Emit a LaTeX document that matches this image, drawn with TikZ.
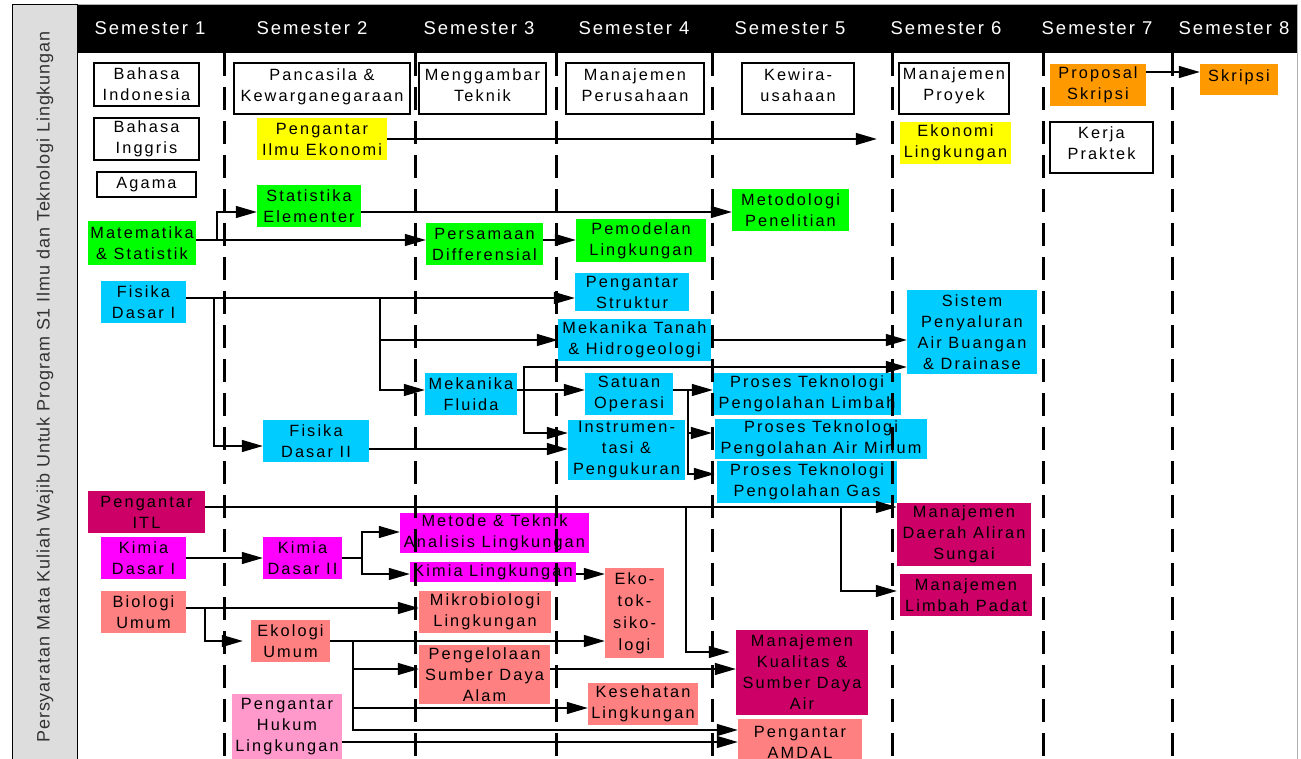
\documentclass[tikz,border=0pt]{standalone}
\usepackage{fontspec}
\setmainfont{Liberation Sans}
\usetikzlibrary{arrows.meta}
\newfontfamily\nodefont[LetterSpace=13]{Liberation Sans}
\newfontfamily\headfont[LetterSpace=11]{Liberation Sans}
\newfontfamily\sidefont[LetterSpace=5]{Liberation Sans}
\definecolor{cgreen}{HTML}{00FF00}
\definecolor{cyellow}{HTML}{FFFF00}
\definecolor{ccyan}{HTML}{00CCFF}
\definecolor{cmag}{HTML}{FF00FF}
\definecolor{ccrim}{HTML}{CC0066}
\definecolor{csalmon}{HTML}{FF8080}
\definecolor{cpink}{HTML}{FF99CC}
\definecolor{corange}{HTML}{FF9900}
\definecolor{cpanel}{HTML}{DDDDDD}
\definecolor{cside}{HTML}{333333}
\newcommand\bx[8][]{%
  \pgfmathsetmacro\bxcx{(#4+#6)/2}\pgfmathsetmacro\bxcy{(#5+#7)/2}%
  \pgfmathsetmacro\bxw{#6-#4}\pgfmathsetmacro\bxh{#7-#5}%
  \node[#2,#1,minimum width=\bxw pt,minimum height=\bxh pt] (#3) at (\bxcx,\bxcy) {#8};}
\begin{document}
\begin{tikzpicture}[x=1pt,y=-1pt,
  box/.style={inner sep=0pt, align=center, font=\nodefont\fontsize{16.3}{21}\selectfont},
  wbox/.style={box, draw=black, line width=1.2pt, fill=white},
  gbox/.style={box, fill=cgreen},
  ybox/.style={box, fill=cyellow},
  cbox/.style={box, fill=ccyan},
  mbox/.style={box, fill=cmag},
  rbox/.style={box, fill=ccrim},
  sbox/.style={box, fill=csalmon},
  pbox/.style={box, fill=cpink},
  obox/.style={box, fill=corange},
  ln/.style={line width=1.3pt},
  arr/.style={line width=1.3pt, -{Triangle[length=21pt,width=12pt]}},
  sem/.style={text=white, font=\headfont\fontsize{18.5}{22}\selectfont, inner sep=0pt},
  dashv/.style={line width=3pt, dash pattern=on 23pt off 11pt},
]
\useasboundingbox (0,0) rectangle (1301,759);
\fill[white] (0,0) rectangle (1301,759);
\draw[gray!60, line width=1pt] (12,5) rectangle (1297,764);
\draw[fill=cpanel, line width=1pt] (12,5) rectangle (77,764);
\fill[black] (77,5) rectangle (1297,53);
\node[rotate=90, text=cside, font=\sidefont\fontsize{18}{20}\selectfont, inner sep=0pt] (side) at (45,387)
  {Persyaratan Mata Kuliah Wajib Untuk Program S1 Ilmu dan Teknologi Lingkungan};
\node[sem] (h1) at (150,28.5) {Semester 1};
\node[sem] (h2) at (312,28.5) {Semester 2};
\node[sem] (h3) at (479,28.5) {Semester 3};
\node[sem] (h4) at (634,28.5) {Semester 4};
\node[sem] (h5) at (790,28.5) {Semester 5};
\node[sem] (h6) at (946,28.5) {Semester 6};
\node[sem] (h7) at (1097,28.5) {Semester 7};
\node[sem] (h8) at (1234,28.5) {Semester 8};
% semester 1
\bx{wbox}{bi}{94}{63}{199}{106}{Bahasa\\Indonesia}
\bx{wbox}{bing}{94}{118}{199}{160}{Bahasa\\Inggris}
\bx{wbox}{agama}{97}{172}{196}{197}{Agama}
\bx{gbox}{mat}{88}{221}{196}{265}{Matematika\\\& Statistik}
\bx{cbox}{fd1}{101}{281}{186}{323}{Fisika\\Dasar I}
\bx{rbox}{itl}{88}{491}{205}{533}{Pengantar\\ITL}
\bx{mbox}{kd1}{101}{537}{186}{579}{Kimia\\Dasar I}
\bx{sbox}{bio}{101}{591}{186}{633}{Biologi\\Umum}
% semester 2
\bx[text depth=6.4pt]{wbox}{pkn}{234}{63}{410}{114}{Pancasila \&\\Kewarganegaraan}
\bx{ybox}{pie}{257}{118}{387}{160}{Pengantar\\Ilmu Ekonomi}
\bx{gbox}{stat}{257}{185}{361}{227}{Statistika\\Elementer}
\bx{cbox}{fd2}{263}{420}{369}{462}{Fisika\\Dasar II}
\bx{mbox}{kd2}{263}{537}{342}{579}{Kimia\\Dasar II}
\bx{sbox}{eko}{251}{620}{330}{662}{Ekologi\\Umum}
\bx{pbox}{phl}{232}{694}{342}{759}{Pengantar\\Hukum\\Lingkungan}
% semester 3
\bx[text depth=6pt]{wbox}{mgt}{419}{63}{546}{114}{Menggambar\\Teknik}
\bx{gbox}{pd}{426}{223}{543}{265}{Persamaan\\Differensial}
\bx{cbox}{mf}{425}{373}{517}{415}{Mekanika\\Fluida}
\bx{mbox}{mta}{400}{513}{589}{553}{Metode \& Teknik\\Analisis Lingkungan}
\bx{mbox}{kl}{410}{562}{576}{582}{Kimia Lingkungan}
\bx{sbox}{mik}{419}{591}{551}{633}{Mikrobiologi\\Lingkungan}
\bx{sbox}{psda}{419}{645}{550}{704}{Pengelolaan\\Sumber Daya\\Alam}
% semester 4
\bx[text depth=6pt]{wbox}{mp}{566}{63}{704}{114}{Manajemen\\Perusahaan}
\bx{gbox}{pem}{576}{219}{706}{262}{Pemodelan\\Lingkungan}
\bx{cbox}{ps}{575}{273}{689}{311}{Pengantar\\Struktur}
\bx{cbox}{mth}{558}{319}{711}{361}{Mekanika Tanah\\\& Hidrogeologi}
\bx{cbox}{so}{585}{373}{673}{415}{Satuan\\Operasi}
\bx{cbox}{ins}{568}{420}{685}{480}{Instrumen-\\tasi \&\\Pengukuran}
\bx[font=\nodefont\fontsize{16.3}{22}\selectfont]{sbox}{etk}{605}{568}{664}{658}{Eko-\\tok-\\siko-\\logi}
\bx{sbox}{kes}{588}{683}{698}{725}{Kesehatan\\Lingkungan}
% semester 5
\bx[text depth=6pt]{wbox}{kwu}{742}{63}{854}{114}{Kewira-\\usahaan}
\bx{gbox}{met}{732}{189}{849}{231}{Metodologi\\Penelitian}
\bx{cbox}{ptl}{713}{373}{901}{415}{Proses Teknologi\\Pengolahan Limbah}
\bx{cbox}{pta}{715}{419}{927}{459}{Proses Teknologi\\Pengolahan Air Minum}
\bx{cbox}{ptg}{717}{461}{897}{503}{Proses Teknologi\\Pengolahan Gas}
\bx{rbox}{mksa}{736}{630}{868}{715}{Manajemen\\Kualitas \&\\Sumber Daya\\Air}
\bx{sbox}{amdal}{738}{719}{862}{765}{Pengantar\\AMDAL}
% semester 6
\bx[text depth=8.4pt]{wbox}{mpr}{899}{63}{1009}{114}{Manajemen\\Proyek}
\bx{ybox}{el}{900}{122}{1011}{164}{Ekonomi\\Lingkungan}
\bx{cbox}{sp}{907}{290}{1037}{374}{Sistem\\Penyaluran\\Air Buangan\\\& Drainase}
\bx{rbox}{mdas}{897}{503}{1031}{566}{Manajemen\\Daerah Aliran\\Sungai}
\bx{rbox}{mlp}{900}{574}{1032}{616}{Manajemen\\Limbah Padat}
% semester 7, 8
\bx{obox}{prop}{1050}{64}{1146}{106}{Proposal\\Skripsi}
\bx[text depth=9pt]{wbox}{kp}{1050}{122}{1153}{173}{Kerja\\Praktek}
\bx[text depth=7.4pt]{obox}{skr}{1200}{64}{1278}{95}{Skripsi}
% junctions
\coordinate (jm) at (217,240);
\coordinate (jf1) at (214,298);
\coordinate (jf2) at (380,298);
\coordinate (jf3) at (380,340);
\coordinate (jmf) at (524,390);
\coordinate (jso) at (688,390);
\coordinate (jk) at (362,558);
\coordinate (jb) at (205,608);
\coordinate (je) at (353,641);
\coordinate (ji1) at (686,507);
\coordinate (ji2) at (841,507);
% connectors
\draw[arr, shorten >=23pt] (pie.east) -- (pie.east -| el.west);
\draw[arr] (mat.east|-0,240) -- (pd.west|-0,240);
\draw[arr] (jm) |- (stat.west|-0,212);
\draw[arr] (stat.east|-0,212) -- (met.west|-0,212);
\draw[arr] (pd.east|-0,240) -- (pem.west|-0,240);
\draw[arr] (fd1.east|-0,298) -- (ps.west|-0,298);
\draw[arr] (jf1) |- (fd2.west|-0,446);
\draw[arr] (jf2) |- (mf.west|-0,390);
\draw[arr] (jf3) -- (mth.west|-0,340);
\draw[arr] (fd2.east|-0,449) -- (ins.west|-0,449);
\draw[arr] (mth.east|-0,340) -- (sp.west|-0,340);
\draw[arr] (mf.east|-0,390) -- (so.west|-0,390);
\draw[arr] (jmf) |- (sp.west|-0,367);
\draw[arr] (jmf) |- (ins.west|-0,433);
\draw[arr] (so.east|-0,390) -- (ptl.west|-0,390);
\draw[arr, shorten >=3pt] (jso) |- (pta.west|-0,433);
\draw[arr, shorten >=2pt] (jso) |- (ptg.west|-0,474);
\draw[arr] (kd1.east|-0,558) -- (kd2.west|-0,558);
\draw[ln] (kd2.east|-0,558) -- (jk);
\draw[arr] (jk) |- (mta.west|-0,532);
\draw[arr] (jk) |- (kl.west|-0,574);
\draw[arr] (kl.east|-0,574) -- (etk.west|-0,574);
\draw[arr] (bio.east|-0,608) -- (mik.west|-0,608);
\draw[arr, shorten >=8pt] (jb) |- (eko.west|-0,641);
\draw[arr] (eko.east|-0,641) -- (etk.west|-0,641);
\draw[arr] (je) |- (psda.west|-0,669);
\draw[arr] (je) |- (kes.west|-0,708);
\draw[arr] (je) |- (amdal.west|-0,730);
\draw[arr] (phl.east|-0,742) -- (amdal.west|-0,742);
\draw[arr] (psda.east|-0,669) -- (mksa.west|-0,669);
\draw[arr] (itl.east|-0,507) -- (mdas.west|-0,507);
\draw[arr, shorten >=6pt] (ji1) |- (mksa.west|-0,652);
\draw[arr, shorten >=3pt] (ji2) |- (mlp.west|-0,591);
\draw[arr] (prop.east|-0,72) -- (skr.west|-0,72);
% dashed semester dividers
\foreach \x in {224,415,556,712,892,1043,1172}
  \draw[dashv] (\x,53) -- (\x,759);
\end{tikzpicture}
\end{document}
